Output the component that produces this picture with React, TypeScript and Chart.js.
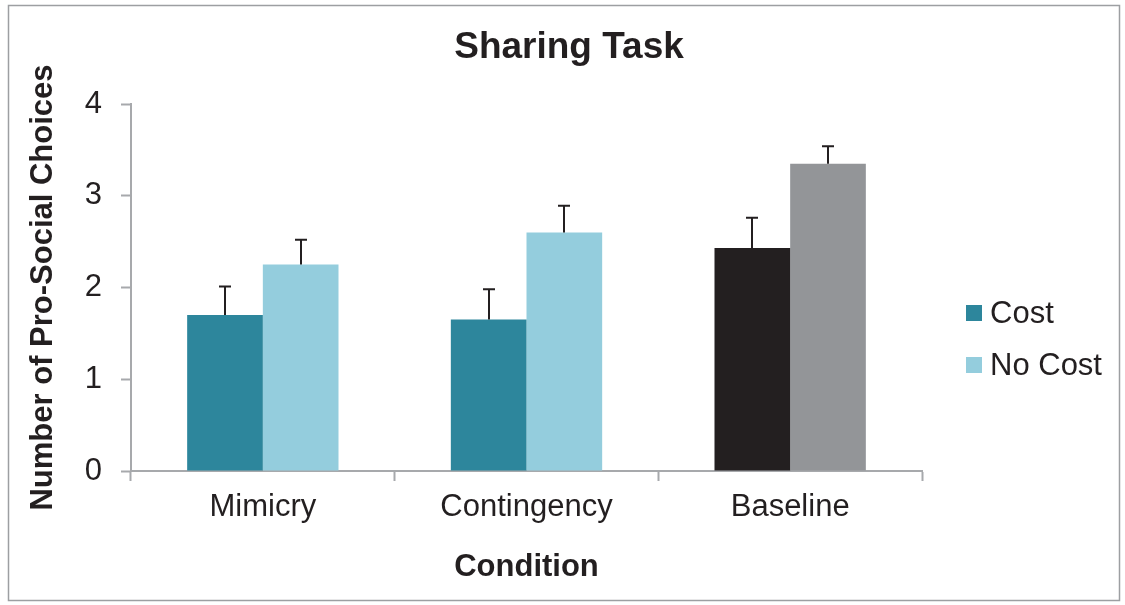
import React, { useEffect, useRef } from "react";
import { Chart, registerables } from "chart.js";

Chart.register(...registerables);

const chartTitle = "Sharing Task";
const categories = ["Mimicry", "Contingency", "Baseline"];
const seriesLabels = ["Cost", "No Cost"];
const costValues = [1.7, 1.65, 2.43];
const costErrors = [0.31, 0.33, 0.33];
const noCostValues = [2.25, 2.6, 3.35];
const noCostErrors = [0.27, 0.29, 0.19];
const costColors = ["#2D869C", "#2D869C", "#231F20"];
const noCostColors = ["#94CDDD", "#94CDDD", "#939598"];
const yTicks = [0, 1, 2, 3, 4];

const FONT = '"Liberation Sans", Arial, Helvetica, sans-serif';
const TEXT = "#231F20";
const AXIS = "#A7A9AC";

const frameAndExtras = {
  id: "frameAndExtras",
  beforeDraw(chart: any) {
    const ctx = chart.ctx;
    ctx.save();
    ctx.fillStyle = "#ffffff";
    ctx.fillRect(0, 0, chart.width, chart.height);
    ctx.strokeStyle = "#9D9FA2";
    ctx.lineWidth = 1.5;
    ctx.strokeRect(8.5, 5.5, 1111, 595);
    ctx.restore();
  },
  afterDatasetsDraw(chart: any) {
    const ctx = chart.ctx;
    const yScale = chart.scales.y;
    ctx.save();
    ctx.strokeStyle = "#231F20";
    ctx.lineWidth = 2;
    chart.data.datasets.forEach((ds: any, i: number) => {
      const meta = chart.getDatasetMeta(i);
      meta.data.forEach((bar: any, j: number) => {
        const v = ds.data[j];
        const e = ds.errors[j];
        const yTop = yScale.getPixelForValue(v + e);
        const x = Math.round(bar.x);
        ctx.beginPath();
        ctx.moveTo(x, bar.y);
        ctx.lineTo(x, yTop);
        ctx.moveTo(x - 6, yTop);
        ctx.lineTo(x + 6, yTop);
        ctx.stroke();
      });
    });
    ctx.restore();
  },
  afterDraw(chart: any) {
    const ctx = chart.ctx;
    ctx.save();
    ctx.fillStyle = TEXT;
    ctx.font = `bold 37px ${FONT}`;
    ctx.textAlign = "center";
    ctx.textBaseline = "middle";
    ctx.fillText(chartTitle, 569, 48);
    const items = chart.data.datasets;
    const ys = [313, 365];
    items.forEach((ds: any, i: number) => {
      const y = ys[i];
      ctx.fillStyle = ds.backgroundColor[0];
      ctx.fillRect(966, y - 8, 16, 16);
      ctx.fillStyle = TEXT;
      ctx.font = `31px ${FONT}`;
      ctx.textBaseline = "middle";
      ctx.textAlign = "left";
      ctx.fillText(ds.label, 990, y + 1);
    });
    ctx.restore();
  },
};

export default function App() {
  const ref = useRef<HTMLCanvasElement | null>(null);
  useEffect(() => {
    if (!ref.current) return;
    const chart = new Chart(ref.current, {
      type: "bar",
      data: {
        labels: categories,
        datasets: [
          {
            label: seriesLabels[0],
            data: costValues,
            errors: costErrors,
            backgroundColor: costColors,
            borderWidth: 0,
            categoryPercentage: 0.574,
            barPercentage: 1,
          } as any,
          {
            label: seriesLabels[1],
            data: noCostValues,
            errors: noCostErrors,
            backgroundColor: noCostColors,
            borderWidth: 0,
            categoryPercentage: 0.574,
            barPercentage: 1,
          } as any,
        ],
      },
      options: {
        animation: false,
        responsive: false,
        maintainAspectRatio: false,
        layout: { padding: { left: 0, right: 203, top: 104, bottom: 0 } },
        plugins: {
          legend: { display: false },
          tooltip: { enabled: false },
          title: { display: false },
        },
        scales: {
          x: {
            afterFit: (s: any) => {
              s.height = 134;
            },
            grid: {
              offset: true,
              drawOnChartArea: false,
              drawTicks: true,
              tickLength: 10,
              tickColor: AXIS,
              tickWidth: 2,
            },
            border: { display: true, color: AXIS, width: 2 },
            ticks: {
              color: TEXT,
              font: { family: FONT, size: 31 },
              padding: 8,
              maxRotation: 0,
            },
            title: {
              display: true,
              text: "Condition",
              color: TEXT,
              font: { family: FONT, size: 31, weight: "bold" },
              padding: { top: 0, bottom: 19 },
            },
          },
          y: {
            min: 0,
            max: 4,
            afterFit: (s: any) => {
              s.width = 131;
            },
            afterBuildTicks: (s: any) => {
              s.ticks = yTicks.map((v) => ({ value: v }));
            },
            grid: {
              drawOnChartArea: false,
              drawTicks: true,
              tickLength: 10,
              tickColor: AXIS,
              tickWidth: 2,
            },
            border: { display: true, color: AXIS, width: 2 },
            ticks: {
              color: TEXT,
              font: { family: FONT, size: 31 },
              padding: 19,
              stepSize: 1,
            },
            title: {
              display: true,
              text: "Number of Pro-Social Choices",
              color: TEXT,
              font: { family: FONT, size: 31, weight: "bold" },
              padding: { top: 25, bottom: 0 },
            },
          },
        },
      },
      plugins: [frameAndExtras],
    } as any);
    return () => chart.destroy();
  }, []);
  return (
    <div style={{ position: "absolute", left: 0, top: 0, width: 1125, height: 605 }}>
      <canvas ref={ref} width={1125} height={605} />
    </div>
  );
}
